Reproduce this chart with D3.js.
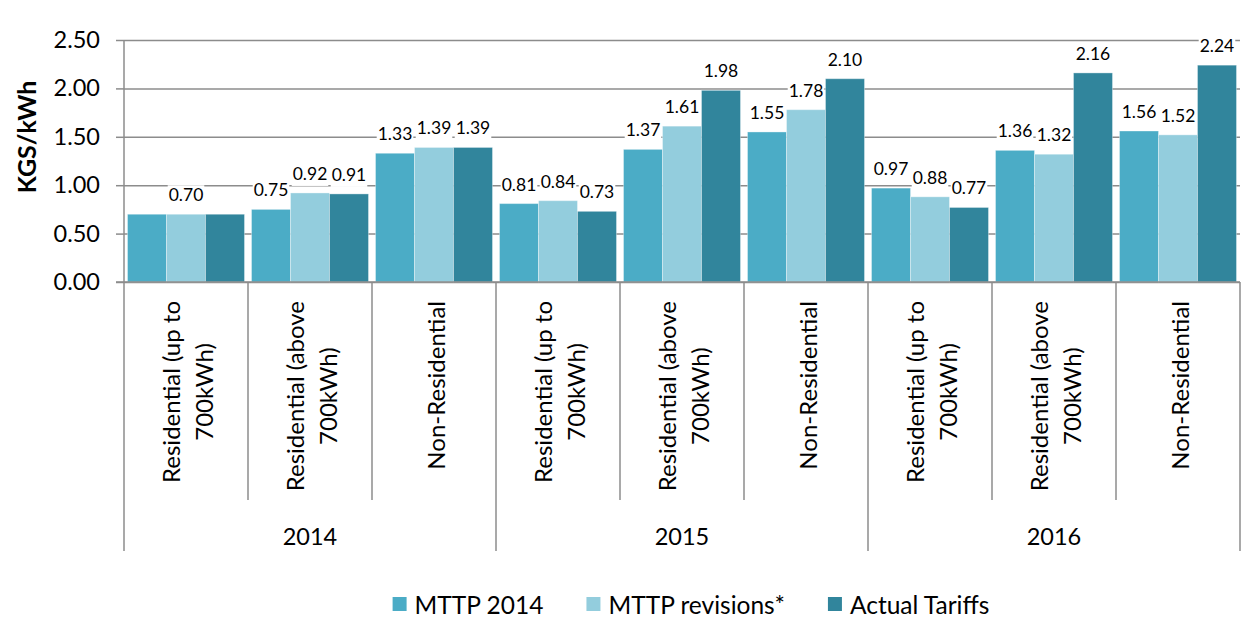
<!DOCTYPE html>
<html>
<head>
<meta charset="utf-8">
<script src="https://cdn.jsdelivr.net/npm/d3@7"></script>
<style>
  body { margin: 0; background: #fff; }
  text { font-family: Lato, "Open Sans", sans-serif; fill: #000; }
</style>
</head>
<body>
<script>
// data
const categories = [
  ["Residential (up to", "700kWh)"],
  ["Residential (above", "700kWh)"],
  ["Non-Residential"],
  ["Residential (up to", "700kWh)"],
  ["Residential (above", "700kWh)"],
  ["Non-Residential"],
  ["Residential (up to", "700kWh)"],
  ["Residential (above", "700kWh)"],
  ["Non-Residential"]
];
const years = ["2014", "2015", "2016"];
const seriesNames = ["MTTP 2014", "MTTP revisions*", "Actual Tariffs"];
const mttp2014 = [0.70, 0.75, 1.33, 0.81, 1.37, 1.55, 0.97, 1.36, 1.56];
const mttpRevisions = [0.70, 0.92, 1.39, 0.84, 1.61, 1.78, 0.88, 1.32, 1.52];
const actualTariffs = [0.70, 0.91, 1.39, 0.73, 1.98, 2.10, 0.77, 2.16, 2.24];
const yTicks = [0, 0.5, 1.0, 1.5, 2.0, 2.5];
// labels Excel left out (group, series)
const hiddenLabels = ["0-0", "0-2"];

const colors = ["#4BACC6", "#93CDDD", "#31859C"];
const allSeries = [mttp2014, mttpRevisions, actualTariffs];

const width = 1250, height = 618;
const plotLeft = 124, plotRight = 1240, plotTop = 40, plotBottom = 282;
const catBottom = 500, yearBottom = 551;
const axisColor = "#8c8c8c";

const svg = d3.select("body").append("svg")
  .attr("width", width)
  .attr("height", height);

// scales
const x0 = d3.scaleBand()
  .domain(d3.range(categories.length))
  .range([plotLeft, plotRight])
  .padding(0);

const x1 = d3.scaleBand()
  .domain(d3.range(seriesNames.length))
  .range([0, x0.bandwidth()])
  .paddingInner(0)
  .paddingOuter(0.09);

const y = d3.scaleLinear()
  .domain([0, 2.5])
  .range([plotBottom, plotTop]);

// gridlines
const grid = svg.append("g")
  .attr("transform", "translate(" + plotLeft + ",0)")
  .call(d3.axisLeft(y).tickValues(yTicks).tickSize(-(plotRight - plotLeft)).tickFormat(""));
grid.select(".domain").remove();
grid.selectAll("line").attr("stroke", axisColor).attr("stroke-width", 1.5);

// bars
const groups = svg.selectAll("g.group")
  .data(categories.map((c, i) => i))
  .enter()
  .append("g")
  .attr("class", "group")
  .attr("transform", i => "translate(" + x0(i) + ",0)");

groups.selectAll("rect")
  .data(i => allSeries.map((s, k) => ({ g: i, k: k, v: s[i] })))
  .enter()
  .append("rect")
  .attr("x", d => x1(d.k))
  .attr("y", d => y(d.v))
  .attr("width", x1.bandwidth())
  .attr("height", d => plotBottom - y(d.v))
  .attr("fill", d => colors[d.k])
  .attr("stroke", "#ffffff")
  .attr("stroke-opacity", 0.35)
  .attr("stroke-width", 1);

// value labels with white box
const labelData = [];
categories.forEach((c, i) => {
  allSeries.forEach((s, k) => {
    if (!hiddenLabels.includes(i + "-" + k)) labelData.push({ g: i, k: k, v: s[i] });
  });
});

const labels = svg.append("g").selectAll("g")
  .data(labelData)
  .enter()
  .append("g");

labels.append("text")
  .attr("x", d => x0(d.g) + x1(d.k) + x1.bandwidth() / 2)
  .attr("y", d => y(d.v) - 13)
  .attr("text-anchor", "middle")
  .attr("font-size", 17.5)
  .text(d => d3.format(".2f")(d.v));

labels.each(function() {
  const t = d3.select(this).select("text");
  const b = t.node().getBBox();
  d3.select(this).insert("rect", "text")
    .attr("x", b.x - 1)
    .attr("y", b.y + 1)
    .attr("width", b.width + 2)
    .attr("height", b.height + 1)
    .attr("fill", "#fff");
});

// y axis
const yAxis = svg.append("g")
  .attr("transform", "translate(" + plotLeft + ",0)")
  .call(d3.axisLeft(y).tickValues(yTicks).tickSize(8).tickPadding(16).tickFormat(d3.format(".2f")));
yAxis.select(".domain").remove();
yAxis.selectAll("line").attr("stroke", axisColor).attr("stroke-width", 1.5);
yAxis.selectAll("text").attr("font-size", 23.5).attr("font-family", "Lato").attr("fill", "#000");

// axis lines
svg.append("line")
  .attr("x1", plotLeft).attr("x2", plotLeft)
  .attr("y1", plotTop).attr("y2", yearBottom)
  .attr("stroke", axisColor).attr("stroke-width", 1.5);

svg.append("line")
  .attr("x1", plotLeft - 8).attr("x2", plotRight)
  .attr("y1", plotBottom).attr("y2", plotBottom)
  .attr("stroke", axisColor).attr("stroke-width", 1.5);

// category separators
d3.range(1, categories.length + 1).forEach(i => {
  const xx = i < categories.length ? x0(i) : plotRight;
  svg.append("line")
    .attr("x1", xx).attr("x2", xx)
    .attr("y1", plotBottom)
    .attr("y2", i % 3 === 0 ? yearBottom : catBottom)
    .attr("stroke", axisColor).attr("stroke-width", 1.5);
});

// category labels (rotated)
categories.forEach((lines, i) => {
  const cx = x0(i) + x0.bandwidth() / 2;
  const g = svg.append("g");
  const texts = lines.map((ln, j) => g.append("text")
    .attr("font-size", 24)
    .attr("text-anchor", "middle")
    .attr("dominant-baseline", "central")
    .text(ln));
  const maxLen = d3.max(texts, t => t.node().getComputedTextLength());
  const cy = 301 + maxLen / 2;
  texts.forEach((t, j) => {
    const lx = cx + (j - (lines.length - 1) / 2) * 33 + 1;
    t.attr("transform", "translate(" + lx + "," + cy + ") rotate(-90)");
  });
});

// year labels
years.forEach((yr, j) => {
  const xa = x0(j * 3);
  const xb = j * 3 + 3 < categories.length ? x0(j * 3 + 3) : plotRight;
  svg.append("text")
    .attr("x", (xa + xb) / 2)
    .attr("y", 536)
    .attr("text-anchor", "middle")
    .attr("dominant-baseline", "central")
    .attr("font-size", 23.5)
    .text(yr);
});

// y title
svg.append("text")
  .attr("transform", "translate(26,137) rotate(-90)")
  .attr("text-anchor", "middle")
  .attr("dominant-baseline", "central")
  .attr("font-size", 25)
  .attr("font-weight", "bold")
  .text("KGS/kWh");

// legend
const legend = svg.append("g");
const items = seriesNames.map((name, k) => {
  const g = legend.append("g");
  g.append("rect").attr("width", 14).attr("height", 14).attr("y", -7).attr("fill", colors[k]);
  const t = g.append("text")
    .attr("x", 22)
    .attr("dominant-baseline", "central")
    .attr("font-size", 24.5)
    .text(name);
  return { g: g, w: 22 + t.node().getComputedTextLength() };
});
const gap = 43;
const totalW = d3.sum(items, d => d.w) + gap * (items.length - 1);
let lx = 691 - totalW / 2;
items.forEach(it => {
  it.g.attr("transform", "translate(" + lx + ",604)");
  lx += it.w + gap;
});
</script>
</body>
</html>
